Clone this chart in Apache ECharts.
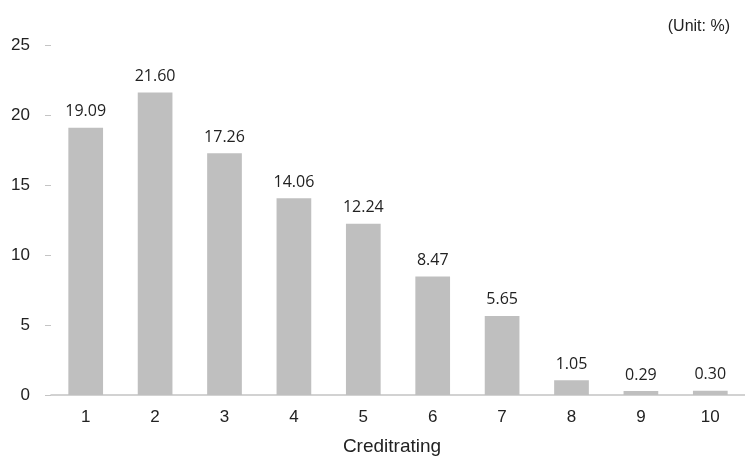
<!DOCTYPE html>
<html>
<head>
<meta charset="utf-8">
<script src="https://cdn.jsdelivr.net/npm/echarts@6/dist/echarts.min.js"></script>
<style>html,body{margin:0;padding:0;background:#fff;}#c{width:745px;height:456px;}</style>
</head>
<body>
<div id="c"></div>
<script>
const categories = ['1','2','3','4','5','6','7','8','9','10'];
const shares = [19.09, 21.60, 17.26, 14.06, 12.24, 8.47, 5.65, 1.05, 0.29, 0.30];
const yTicks = [0, 5, 10, 15, 20, 25];

const chart = echarts.init(document.getElementById('c'));
chart.setOption({
  animation: false,
  title: {
    text: '(Unit: %)',
    right: 10, top: 14,
    textStyle: {fontFamily: 'Liberation Sans', fontSize: 16, fontWeight: 'normal', color: '#222'}
  },
  grid: {left: 51, right: 0, top: 45, bottom: 61, containLabel: false, outerBoundsMode: 'none'},
  xAxis: {
    type: 'category',
    data: categories,
    name: 'Creditrating',
    nameLocation: 'middle',
    nameGap: 42,
    nameTextStyle: {fontFamily: 'Liberation Sans', fontSize: 19, color: '#222', padding: [0, 12, 0, 0]},
    axisLine: {lineStyle: {color: '#c4c4c4', width: 1.5}},
    axisTick: {length: 5, lineStyle: {color: '#c4c4c4', width: 1.5}},
    axisLabel: {fontFamily: 'Liberation Sans', fontSize: 17, color: '#222', margin: 14}
  },
  yAxis: {
    type: 'value',
    min: yTicks[0], max: yTicks[yTicks.length - 1], interval: 5,
    splitLine: {show: false},
    axisLine: {show: false},
    axisTick: {show: true, length: 6, lineStyle: {color: '#c4c4c4'}},
    axisLabel: {fontFamily: 'Liberation Sans', fontSize: 17, color: '#222', margin: 21}
  },
  series: [{
    type: 'bar',
    data: shares,
    barWidth: '50%',
    itemStyle: {color: '#bfbfbf'},
    label: {
      show: true, position: 'top', distance: 8,
      formatter: p => p.value.toFixed(2),
      fontFamily: 'Open Sans', fontSize: 16, color: '#222'
    }
  }]
});
</script>
</body>
</html>
